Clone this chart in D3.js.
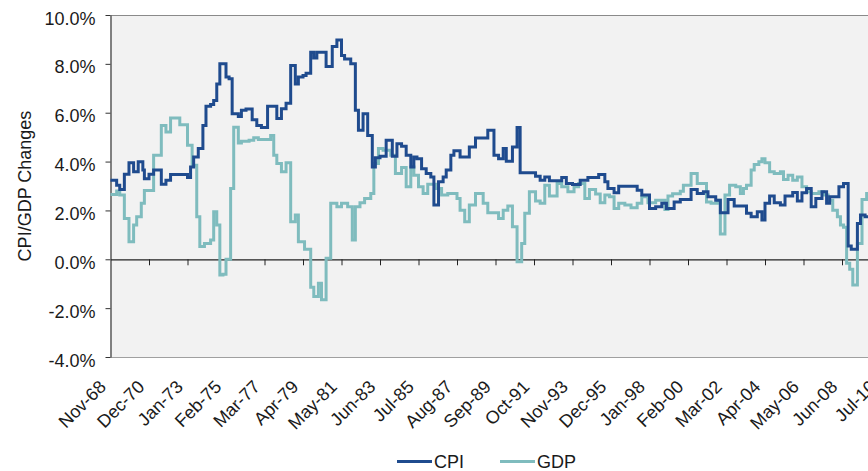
<!DOCTYPE html>
<html>
<head>
<meta charset="utf-8">
<script src="https://cdn.jsdelivr.net/npm/d3@7"></script>
<style>
  body { margin: 0; background: #fff; }
  svg { display: block; font-family: "Liberation Sans", Arial, sans-serif; }
</style>
</head>
<body>
<svg id="chart" width="868" height="471"></svg>
<script>
// months counted from Nov-68 (0), one step per change in the plotted series
var cpiMonths = [0,4,6,9,12,15,18,21,22,25,28,33,36,39,50,52,54,57,60,62,65,67,69,71,75,77,79,83,85,88,92,95,98,102,108,111,114,117,
  120,122,125,127,130,132,134,140,144,147,150,152,156,159,161,164,167,170,172,175,179,183,186,189,192,195,197,199,202,205,208,210,213,216,218,221,223,227,233,237,
  245,249,252,255,257,261,264,266,276,279,282,285,293,296,300,305,310,317,321,323,327,330,342,345,350,354,358,361,
  366,370,377,381,385,388,393,396,401,405,413,416,420,423,425,428,431,435,438,443,446,449,452,455,458,462,465,467,473,476,479,481,485,487,490,498];
var cpiValues = [3.24,3.03,2.86,3.48,3.95,3.58,3.99,3.65,3.30,3.48,3.65,3.07,3.24,3.47,3.35,3.78,4.19,4.53,5.48,6.26,6.34,6.50,7.18,8.00,7.46,7.39,5.96,5.85,6.10,6.15,5.71,5.48,5.39,6.26,5.76,6.16,6.39,7.93,
  7.18,7.46,7.52,7.62,8.48,8.24,8.48,7.89,8.71,8.98,8.34,8.20,8.00,6.10,5.28,5.96,5.07,3.78,4.16,4.22,4.87,4.22,4.73,4.63,4.26,3.78,4.19,4.12,3.71,3.51,3.37,2.22,3.17,3.37,3.65,4.26,4.44,4.19,4.60,4.97,
  5.28,4.26,4.12,4.53,4.01,4.60,5.39,3.54,3.40,3.24,3.37,3.21,3.35,3.10,3.06,3.24,3.35,3.47,3.17,2.90,2.72,2.99,2.83,2.63,2.08,2.15,2.29,2.08,
  2.35,2.45,2.86,2.69,2.76,2.56,2.42,1.90,2.45,2.18,1.88,1.74,1.95,1.61,2.29,2.59,2.31,2.22,2.59,2.73,2.39,2.72,2.90,2.15,2.49,2.76,2.29,2.56,2.97,3.10,0.54,0.41,1.47,1.81,1.74,1.74];

var gdpMonths = [0,4,6,9,12,15,17,20,22,28,33,36,39,45,50,53,56,58,61,65,67,69,71,73,75,78,80,83,85,90,93,96,104,106,108,111,114,117,
  120,122,126,130,132,135,137,140,143,147,150,154,157,159,162,165,169,171,174,177,182,185,189,192,195,197,200,203,206,211,215,219,225,227,230,233,237,242,
  245,252,255,258,261,264,267,269,272,276,279,282,285,290,293,297,301,304,308,311,315,318,321,324,327,330,334,338,342,345,349,354,360,362,
  365,370,372,377,381,387,390,394,396,399,402,406,409,411,413,416,418,421,423,425,428,431,435,437,440,443,446,449,452,455,460,463,466,469,472,474,476,478,480,482,485,488,491,498];
var gdpValues = [2.65,2.80,2.63,1.67,0.72,1.40,1.74,2.29,2.82,4.26,5.48,5.21,5.78,5.51,4.67,3.85,1.74,0.52,0.65,0.79,1.95,1.40,-0.64,-0.61,0.00,2.90,5.41,4.76,4.83,4.87,4.98,4.90,5.07,4.26,3.92,3.58,3.95,1.54,
  1.81,0.72,0.41,-1.14,-1.52,-0.98,-1.66,0.04,2.29,2.15,2.29,2.15,0.79,2.15,2.31,2.49,2.69,3.92,4.53,4.46,4.26,3.51,3.76,2.97,3.78,3.44,2.97,2.69,3.07,2.90,2.63,2.69,2.49,2.01,1.54,2.22,2.69,2.29,
  1.90,1.67,2.01,2.18,1.33,-0.10,0.65,1.88,2.76,2.39,2.29,3.03,2.59,3.10,2.97,2.76,2.97,3.10,2.49,2.86,2.67,2.31,2.63,2.56,2.08,2.29,2.22,2.11,2.29,2.56,2.31,2.42,2.04,2.59,
  2.68,2.79,3.03,3.51,3.10,2.35,2.29,2.42,1.03,2.63,3.03,2.97,2.69,2.90,3.03,3.65,3.88,3.99,4.12,3.95,3.58,3.51,3.58,3.27,3.44,3.24,3.37,2.97,2.76,2.69,2.76,2.63,2.42,2.01,1.74,1.40,1.31,-0.16,-0.41,-1.05,0.65,2.45,2.69,2.69];

// category labels, one every 25 months
var xLabels = ["Nov-68","Dec-70","Jan-73","Feb-75","Mar-77","Apr-79","May-81","Jun-83","Jul-85","Aug-87","Sep-89",
  "Oct-91","Nov-93","Dec-95","Jan-98","Feb-00","Mar-02","Apr-04","May-06","Jun-08","Jul-10"];
var yTicks = [-4, -2, 0, 2, 4, 6, 8, 10];

var series = [
  {name: "CPI", months: cpiMonths, values: cpiValues, color: "#1f4b8e"},
  {name: "GDP", months: gdpMonths, values: gdpValues, color: "#7fbcbe"}
];

var svg = d3.select("#chart");
var margin = {top: 15, left: 110.5, bottom: 357};

var x = d3.scaleLinear().domain([0, 500]).range([margin.left, 880.5]);
var y = d3.scaleLinear().domain([-4, 10]).range([margin.bottom, margin.top]);

// plot area
svg.append("rect")
  .attr("x", margin.left).attr("y", margin.top)
  .attr("width", 900 - margin.left).attr("height", margin.bottom - margin.top)
  .attr("fill", "#f2f2f2");
svg.append("line")
  .attr("x1", margin.left).attr("x2", 900)
  .attr("y1", margin.top + 0.5).attr("y2", margin.top + 0.5)
  .attr("stroke", "#8a8a8a").attr("stroke-width", 1.2);
svg.append("line")
  .attr("x1", margin.left).attr("x2", 900)
  .attr("y1", margin.bottom + 0.5).attr("y2", margin.bottom + 0.5)
  .attr("stroke", "#a0a0a0").attr("stroke-width", 1.2);

// y axis
var yAxis = d3.axisLeft(y).tickValues(yTicks).tickSize(5).tickSizeOuter(0)
  .tickFormat(function(d) { return d.toFixed(1) + "%"; });
var gy = svg.append("g").attr("transform", "translate(" + margin.left + ",0)").call(yAxis);
gy.select(".domain").attr("stroke", "#333").attr("stroke-width", 1.2);
gy.selectAll(".tick line").attr("stroke", "#333");
gy.selectAll(".tick text")
  .attr("x", -15).attr("dy", "0.5em")
  .attr("fill", "#1a1a1a").style("font-size", "18px")
  .style("font-family", "Liberation Sans, Arial, sans-serif");

// x axis on the zero line, ticks every 25 months
var xAxis = d3.axisBottom(x).tickValues(d3.range(1, xLabels.length).map(function(i) { return i * 25; }))
  .tickSize(6).tickSizeOuter(0).tickFormat("");
var gx = svg.append("g").attr("transform", "translate(0," + y(0) + ")").call(xAxis);
gx.select(".domain").attr("stroke", "#222").attr("stroke-width", 1.2);
gx.selectAll(".tick line").attr("stroke", "#222");

svg.append("g").selectAll("text")
  .data(xLabels)
  .enter().append("text")
  .attr("transform", function(d, i) { return "translate(" + (x(i * 25) - 3.5) + ",388) rotate(-45)"; })
  .attr("text-anchor", "end")
  .attr("fill", "#1a1a1a")
  .style("font-size", "18px")
  .text(function(d) { return d; });

// y axis title
svg.append("text")
  .attr("transform", "translate(31,186) rotate(-90)")
  .attr("text-anchor", "middle")
  .attr("fill", "#1a1a1a")
  .style("font-size", "18px")
  .text("CPI/GDP Changes");

// lines
var line = d3.line()
  .curve(d3.curveStepAfter)
  .x(function(d) { return x(d.m); })
  .y(function(d) { return y(d.v); });

series.slice().reverse().forEach(function(s) {
  var pts = s.months.map(function(m, i) { return {m: m, v: s.values[i]}; });
  svg.append("path")
    .datum(pts)
    .attr("d", line)
    .attr("fill", "none")
    .attr("stroke", s.color)
    .attr("stroke-width", 3)
    .attr("stroke-linejoin", "miter");
});

// legend
var legend = svg.append("g").selectAll("g")
  .data(series)
  .enter().append("g")
  .attr("transform", function(d, i) { return "translate(" + (397 + i * 103) + ",461.5)"; });
legend.append("line")
  .attr("x1", 0).attr("x2", 35)
  .attr("stroke", function(d) { return d.color; })
  .attr("stroke-width", 3);
legend.append("text")
  .attr("x", 37).attr("y", 6.5)
  .attr("fill", "#1a1a1a")
  .style("font-size", "18px")
  .text(function(d) { return d.name; });
</script>
</body>
</html>
